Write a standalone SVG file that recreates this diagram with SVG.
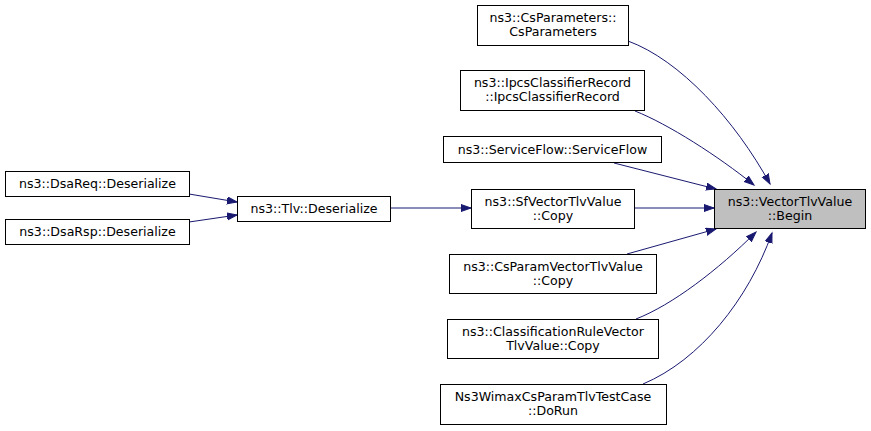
<svg xmlns="http://www.w3.org/2000/svg" width="871" height="431" viewBox="0 0 871 431">
<style>
.n rect{fill:#fff;stroke:#000;stroke-width:1}
.h rect{fill:#bfbfbf}
text{font-family:"DejaVu Sans","Liberation Sans",sans-serif;font-size:12.6px;text-anchor:middle;fill:#000}
.e{fill:none;stroke:#191970;stroke-width:1}
</style>
<defs>
<marker id="a" markerUnits="userSpaceOnUse" markerWidth="12" markerHeight="10" refX="10" refY="4" orient="auto">
<path d="M0,0.5 L10,4 L0,7.5 Z" fill="#191970" stroke="#191970" stroke-width="1"/>
</marker>
</defs>
<g id="edges">
<path class="e" d="M628,41 C680,60 735,120 770,184" marker-end="url(#a)"/>
<path class="e" d="M635,111 C668,124 718,156 754,185" marker-end="url(#a)"/>
<path class="e" d="M614,163 L716,189" marker-end="url(#a)"/>
<path class="e" d="M634,208 L714,208" marker-end="url(#a)"/>
<path class="e" d="M627,254 L716,229" marker-end="url(#a)"/>
<path class="e" d="M636,319 C672,305 718,270 756,232" marker-end="url(#a)"/>
<path class="e" d="M643,384 C700,360 748,300 772,233" marker-end="url(#a)"/>
<path class="e" d="M390,208 L471,208" marker-end="url(#a)"/>
<path class="e" d="M189,194 L237,202" marker-end="url(#a)"/>
<path class="e" d="M189,222 L237,215" marker-end="url(#a)"/>
</g>
<g id="begin" class="n h"><rect x="714.5" y="189.5" width="151" height="39"/><text x="790" y="206">ns3::VectorTlvValue</text><text x="790" y="220">::Begin</text></g>
<g id="csparameters" class="n"><rect x="477.5" y="5.5" width="151" height="40"/><text x="553" y="22">ns3::CsParameters::</text><text x="553" y="36">CsParameters</text></g>
<g id="ipcs" class="n"><rect x="460.5" y="70.5" width="184" height="40"/><text x="552.5" y="87">ns3::IpcsClassifierRecord</text><text x="552.5" y="101">::IpcsClassifierRecord</text></g>
<g id="serviceflow" class="n"><rect x="443.5" y="136.5" width="218" height="26"/><text x="552.5" y="154">ns3::ServiceFlow::ServiceFlow</text></g>
<g id="sfcopy" class="n"><rect x="471.5" y="189.5" width="163" height="39"/><text x="553" y="206">ns3::SfVectorTlvValue</text><text x="553" y="220">::Copy</text></g>
<g id="csparamcopy" class="n"><rect x="449.5" y="254.5" width="207" height="39"/><text x="553" y="271">ns3::CsParamVectorTlvValue</text><text x="553" y="285">::Copy</text></g>
<g id="classcopy" class="n"><rect x="447.5" y="319.5" width="211" height="39"/><text x="553" y="336">ns3::ClassificationRuleVector</text><text x="553" y="350">TlvValue::Copy</text></g>
<g id="dorun" class="n"><rect x="440.5" y="384.5" width="226" height="40"/><text x="553" y="401">Ns3WimaxCsParamTlvTestCase</text><text x="553" y="415">::DoRun</text></g>
<g id="tlvdeser" class="n"><rect x="237.5" y="196.5" width="153" height="25"/><text x="314" y="213">ns3::Tlv::Deserialize</text></g>
<g id="dsareq" class="n"><rect x="5.5" y="171.5" width="184" height="25"/><text x="97.5" y="188">ns3::DsaReq::Deserialize</text></g>
<g id="dsarsp" class="n"><rect x="5.5" y="219.5" width="184" height="25"/><text x="97.5" y="236">ns3::DsaRsp::Deserialize</text></g>
</svg>
